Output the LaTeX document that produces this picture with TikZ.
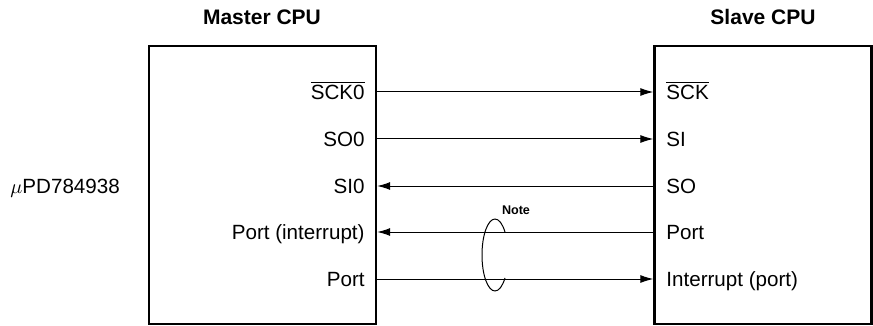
\documentclass[tikz,border=0pt]{standalone}
\usepackage{fontspec}
\setmainfont{Liberation Sans}
\usetikzlibrary{positioning, arrows.meta}
\tikzset{
  every node/.style={font=\fontsize{10.3}{12}\selectfont},
  cpu/.style={draw, line width=1.2pt, inner sep=0pt},
  cputitle/.style={font=\fontsize{10.5}{12}\selectfont\bfseries},
  pin/.style={inner sep=0pt, text height=0.716em, text depth=0pt},
  wire/.style={-{Latex[length=6.5pt, width=4pt]}, line width=0.5pt},
  notelbl/.style={font=\fontsize{6.3}{7}\selectfont\bfseries},
}

\begin{document}
\begin{tikzpicture}[x=0.5pt, y=-0.5pt]
  \useasboundingbox (0,0) rectangle (873,326);
  % the two CPUs
  \node[cpu, minimum width=113.5pt, minimum height=139pt] (master) at (262.5,185) {};
  \node[cpu, minimum width=108.5pt, minimum height=139pt] (slave) at (763,185) {};
  \node[cputitle] (mtitle) at (262,17) {Master CPU};
  \node[cputitle] (stitle) at (763,17) {Slave CPU};
  \node[pin, anchor=west] (part) at (10,186) {$\mu$PD784938};
  % master pins
  \node[pin, anchor=east] (mSck)  at (365,92)  {$\overline{\mbox{SCK0}}$};
  \node[pin, anchor=east] (mSo)   at (365,139) {SO0};
  \node[pin, anchor=east] (mSi)   at (365,186) {SI0};
  \node[pin, anchor=east] (mIntr) at (365,232) {Port (interrupt)};
  \node[pin, anchor=east] (mPort) at (365,279) {Port};
  % slave pins
  \node[pin, anchor=west] (sSck)  at (666,92)  {$\overline{\mbox{SCK}}$};
  \node[pin, anchor=west] (sSi)   at (666,139) {SI};
  \node[pin, anchor=west] (sSo)   at (666,186) {SO};
  \node[pin, anchor=west] (sPort) at (666,232) {Port};
  \node[pin, anchor=west] (sIntr) at (666,279) {Interrupt (port)};
  % wires
  \draw[wire] (mSck -| master.east) -- (sSck -| slave.west);
  \draw[wire] (mSo -| master.east) -- (sSi -| slave.west);
  \draw[wire] (sSo -| slave.west) -- (mSi -| master.east);
  \draw[wire] (sPort -| slave.west) -- (mIntr -| master.east);
  \draw[wire] (mPort -| master.east) -- (sIntr -| slave.west);
  % loop round the two port lines
  \coordinate (looptop) at (495,219);
  \coordinate (loopbot) at (495,291);
  \draw[line width=0.5pt] (looptop) arc[start angle=90, end angle=270, x radius=6.5pt, y radius=18pt];
  \draw[line width=0.5pt] (looptop) arc[start angle=90, end angle=39.7, x radius=6.5pt, y radius=18pt];
  \draw[line width=0.5pt] (loopbot) arc[start angle=-90, end angle=-39.7, x radius=6.5pt, y radius=18pt];
  \node[notelbl] (note) at (516,210) {Note};
\end{tikzpicture}
\end{document}
